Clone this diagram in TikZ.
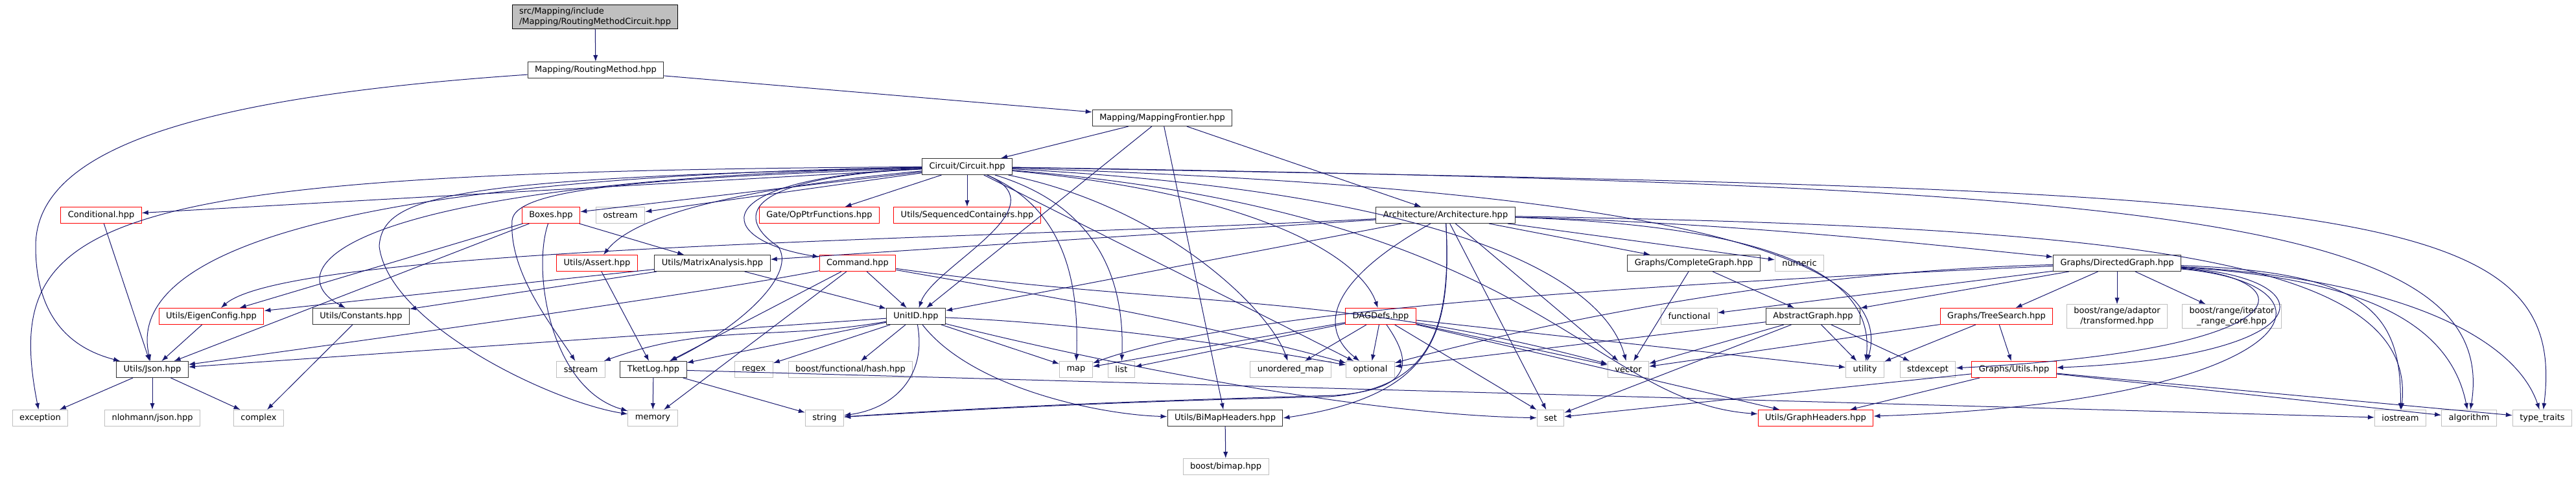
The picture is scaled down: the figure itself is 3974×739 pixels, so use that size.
\documentclass[tikz,border=0pt]{standalone}
\usepackage{fontspec}
\setmainfont{DejaVu Sans}
\usepackage{tikz}
\usetikzlibrary{arrows.meta}
\definecolor{DoxEdge}{RGB}{25, 25, 112}
\definecolor{DoxGrey}{RGB}{191, 191, 191}
\definecolor{DoxRed}{RGB}{255, 0, 0}
\definecolor{DoxDark}{RGB}{50, 50, 50}

\tikzset{
  hdr/.style={draw=DoxDark, fill=white, line width=0.5pt,
    minimum height=12.5pt, inner xsep=5.5pt, inner ysep=0pt,
    font=\fontsize{6.5}{7.8}\selectfont},
  trunc/.style={hdr, draw=DoxRed},
  syshdr/.style={hdr, draw=DoxGrey},
  dep/.style={draw=DoxEdge, line width=0.5pt, -{Latex[length=5pt,width=3.6pt]}}
}

\begin{document}
\begin{tikzpicture}[x=0.5pt, y=-0.5pt, every edge/.style={dep}]
  \useasboundingbox (0,0) rectangle (3974,739);

  % upper levels
  \node[hdr, fill=DoxGrey, draw=black, align=left, inner ysep=2pt] (root) at (918,26)
    {src/Mapping/include\\/Mapping/RoutingMethodCircuit.hpp};
  \node[hdr] (rmeth) at (919,108) {Mapping/RoutingMethod.hpp};
  \node[hdr] (mfront) at (1793,182) {Mapping/MappingFrontier.hpp};
  \node[hdr] (circ) at (1492,257) {Circuit/Circuit.hpp};

  \node[trunc] (cond) at (156,332) {Conditional.hpp};
  \node[trunc] (boxes) at (850,332) {Boxes.hpp};
  \node[syshdr] (ostr) at (957,332) {ostream};
  \node[trunc] (opptr) at (1264,332) {Gate/OpPtrFunctions.hpp};
  \node[trunc] (seqc) at (1492,332) {Utils/SequencedContainers.hpp};
  \node[hdr] (arch) at (2230,332) {Architecture/Architecture.hpp};

  \node[trunc] (assert) at (921,406) {Utils/Assert.hpp};
  \node[hdr] (matan) at (1099,406) {Utils/MatrixAnalysis.hpp};
  \node[trunc] (cmd) at (1323,406) {Command.hpp};
  \node[hdr] (cgraph) at (2613,406) {Graphs/CompleteGraph.hpp};
  \node[syshdr] (numeric) at (2776,406) {numeric};
  \node[hdr] (dgraph) at (3266,406) {Graphs/DirectedGraph.hpp};

  \node[trunc] (eigen) at (326,488) {Utils/EigenConfig.hpp};
  \node[hdr] (consts) at (557,488) {Utils/Constants.hpp};
  \node[hdr] (unitid) at (1413,488) {UnitID.hpp};
  \node[trunc] (dagdefs) at (2130,488) {DAGDefs.hpp};
  \node[syshdr] (functional) at (2606,488) {functional};
  \node[hdr] (agraph) at (2797,488) {AbstractGraph.hpp};
  \node[trunc] (tsearch) at (3080,488) {Graphs/TreeSearch.hpp};
  \node[syshdr, align=center, inner ysep=2pt] (adaptor) at (3266,488)
    {boost/range/adaptor\\/transformed.hpp};
  \node[syshdr, align=center, inner ysep=2pt] (irange) at (3443,488)
    {boost/range/iterator\\\_range\_core.hpp};

  % lower levels
  \node[hdr] (json) at (235,570) {Utils/Json.hpp};
  \node[syshdr] (sstream) at (896,570) {sstream};
  \node[hdr] (tketlog) at (1008,570) {TketLog.hpp};
  \node[syshdr] (regex) at (1163,570) {regex};
  \node[syshdr] (bhash) at (1312,570) {boost/functional/hash.hpp};
  \node[syshdr] (map) at (1660,570) {map};
  \node[syshdr] (list) at (1730,570) {list};
  \node[syshdr] (umap) at (1991,570) {unordered\_map};
  \node[syshdr] (optional) at (2114,570) {optional};
  \node[syshdr] (vector) at (2512,570) {vector};
  \node[syshdr] (utility) at (2877,570) {utility};
  \node[syshdr] (stdexcept) at (2974,570) {stdexcept};
  \node[trunc] (gutils) at (3107,570) {Graphs/Utils.hpp};

  \node[syshdr] (exception) at (62,645) {exception};
  \node[syshdr] (nlohmann) at (235,645) {nlohmann/json.hpp};
  \node[syshdr] (complex) at (399,645) {complex};
  \node[syshdr] (memory) at (1007,645) {memory};
  \node[syshdr] (string) at (1272,645) {string};
  \node[hdr] (bimaph) at (1890,645) {Utils/BiMapHeaders.hpp};
  \node[syshdr] (set) at (2392,645) {set};
  \node[trunc] (graphh) at (2801,645) {Utils/GraphHeaders.hpp};
  \node[syshdr] (iostream) at (3703,645) {iostream};
  \node[syshdr] (algorithm) at (3809,645) {algorithm};
  \node[syshdr] (typetraits) at (3922,645) {type\_traits};

  \node[syshdr] (bimap) at (1891,720) {boost/bimap.hpp};

  % includes of the top files
  \path (root) edge (rmeth);
  \path (rmeth) edge (mfront);
  \draw[dep] (rmeth) .. controls (300,150) and (55,230) .. (55,380)
    .. controls (55,500) and (120,540) .. (json);
  \path (mfront) edge (circ) edge (arch) edge (unitid) edge (bimaph);

  % Circuit.hpp
  \path (circ) edge (cond) edge (boxes) edge (ostr) edge (opptr) edge (seqc)
    edge (optional);
  \draw[dep] (circ) .. controls (1150,290) and (980,330) .. (assert);
  \draw[dep] (circ) .. controls (1080,275) and (1100,370) .. (cmd);
  \draw[dep] (circ) .. controls (1640,320) and (1440,410) .. (unitid);
  \draw[dep] (circ) .. controls (1950,300) and (2100,400) .. (dagdefs);
  \draw[dep] (circ) .. controls (500,280) and (430,420) .. (consts);
  \draw[dep] (circ) .. controls (400,275) and (200,420) .. (json);
  \draw[dep] (circ) .. controls (150,265) and (0,330) .. (exception);
  \draw[dep] (circ) .. controls (700,275) and (590,300) .. (585,380)
    .. controls (600,500) and (850,620) .. (memory);
  \draw[dep] (circ) .. controls (1000,275) and (795,290) .. (790,340)
    .. controls (785,420) and (850,500) .. (sstream);
  \draw[dep] (circ) .. controls (1130,275) and (1140,340) .. (1200,380)
    .. controls (1230,420) and (1150,500) .. (tketlog);
  \draw[dep] (circ) .. controls (1640,320) and (1665,430) .. (map);
  \draw[dep] (circ) .. controls (1700,320) and (1735,440) .. (list);
  \draw[dep] (circ) .. controls (1800,320) and (1960,480) .. (umap);
  \draw[dep] (circ) .. controls (2300,300) and (2480,450) .. (vector);
  \draw[dep] (circ) .. controls (2500,290) and (2930,380) .. (utility);
  \draw[dep] (circ) .. controls (2380,330) and (2450,620) .. (graphh);
  \draw[dep] (circ) .. controls (3300,285) and (3860,330) .. (algorithm);
  \draw[dep] (circ) .. controls (3600,295) and (3965,300) .. (typetraits);

  % Architecture.hpp
  \path (arch) edge (cgraph) edge (numeric) edge (matan) edge (unitid)
    edge (set) edge (vector);
  \draw[dep] (arch) .. controls (2700,345) and (3000,380) .. (dgraph);
  \draw[dep] (arch) .. controls (3300,350) and (3730,400) .. (iostream);
  \draw[dep] (arch) .. controls (1500,370) and (450,380) .. (eigen);
  \draw[dep] (arch) .. controls (2240,520) and (2210,610) .. (bimaph.east);
  \draw[dep] (arch) .. controls (2240,520) and (2200,600) .. (2050,612)
    .. controls (1700,620) and (1500,632) .. (string);
  \draw[dep] (arch) .. controls (2800,350) and (2890,450) .. (utility);
  \draw[dep] (arch) .. controls (2020,450) and (2050,520) .. (optional);

  % middle files
  \path (cond) edge (json);
  \path (boxes) edge (eigen) edge (json) edge (matan);
  \draw[dep] (boxes) .. controls (820,420) and (850,600) .. (memory);
  \path (assert) edge (tketlog);
  \path (matan) edge (eigen) edge (consts) edge (unitid);
  \path (cmd) edge (unitid) edge (tketlog) edge (memory)
    edge[out=-10, in=165] (optional) edge[out=-8, in=165] (vector);
  \draw[dep] (cmd) .. controls (1100,450) and (600,520) .. (json);

  % UnitID.hpp and DAGDefs.hpp
  \path (unitid) edge (regex) edge (bhash) edge (map) edge (json) edge (tketlog)
    edge[out=190, in=20] (sstream);
  \draw[dep] (unitid) .. controls (1430,580) and (1380,630) .. (string);
  \draw[dep] (unitid) .. controls (1500,600) and (1700,640) .. (bimaph);
  \draw[dep] (unitid) .. controls (1700,560) and (2100,640) .. (set);
  \draw[dep] (unitid) .. controls (1700,500) and (1950,540) .. (optional);
  \path (dagdefs) edge (umap) edge (optional) edge (vector) edge (set)
    edge (utility) edge (graphh) edge (list) edge (map);
  \draw[dep] (dagdefs) .. controls (2180,560) and (2180,600) .. (2060,610)
    .. controls (1700,620) and (1500,630) .. (string);

  % graph headers
  \path (cgraph) edge (vector) edge (agraph);
  \path (dgraph) edge (agraph) edge (functional) edge (tsearch) edge (adaptor)
    edge (irange);
  \draw[dep] (dgraph) .. controls (2500,440) and (1900,480) .. (map);
  \draw[dep] (dgraph) .. controls (2700,420) and (2300,520) .. (optional);
  \draw[dep] (dgraph) .. controls (3560,430) and (3560,540) .. (stdexcept);
  \draw[dep] (dgraph) .. controls (3600,430) and (3580,550) .. (gutils);
  \draw[dep] (dgraph) .. controls (3640,440) and (3550,620) .. (graphh);
  \draw[dep] (dgraph) .. controls (3650,420) and (3705,480) .. (iostream);
  \draw[dep] (dgraph) .. controls (3650,430) and (3780,500) .. (algorithm);
  \draw[dep] (dgraph) .. controls (3700,430) and (3880,520) .. (typetraits);
  \path (agraph) edge (optional) edge (vector) edge (set) edge (utility)
    edge (stdexcept);
  \path (tsearch) edge (vector) edge (utility) edge (gutils);
  \path (gutils) edge (set) edge (graphh) edge (algorithm) edge (typetraits);

  % leaves
  \path (tketlog) edge (memory) edge (string) edge (iostream);
  \path (json) edge (exception) edge (nlohmann) edge (complex);
  \path (consts) edge (complex);
  \path (eigen) edge (json);
  \path (bimaph) edge (bimap);
\end{tikzpicture}
\end{document}
